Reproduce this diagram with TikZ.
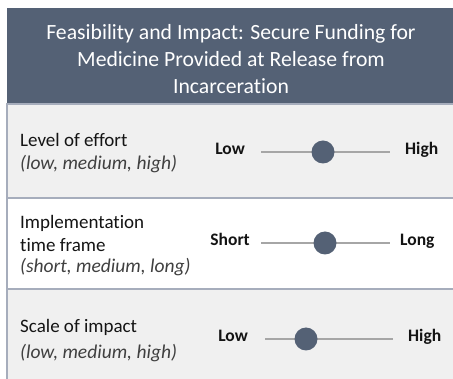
\documentclass[tikz,border=0pt]{standalone}
\usepackage{fontspec}
\setmainfont[Ligatures={NoCommon}]{Carlito}
\usepackage{tikz}
\usetikzlibrary{positioning}
\definecolor{slate}{RGB}{84, 97, 117}
\definecolor{mist}{RGB}{240, 240, 240}
\definecolor{rule}{RGB}{166, 173, 188}
\definecolor{track}{RGB}{166, 166, 166}
\definecolor{ink}{RGB}{20, 20, 20}
\definecolor{hintgray}{RGB}{64, 64, 64}
\tikzset{
    title/.style     = {text=white, align=center, font=\fontsize{21.7}{27}\selectfont, inner sep=0pt},
    item/.style      = {text=ink, anchor=west, align=left, font=\fontsize{19}{23}\selectfont, inner sep=0pt},
    hint/.style      = {text=hintgray, anchor=west, font=\fontsize{19.5}{23}\selectfont\itshape, inner sep=0pt},
    endlabel/.style  = {text=ink, font=\fontsize{17.5}{20}\selectfont\bfseries, inner sep=0pt, text height=1.5ex, text depth=.25ex},
    knob/.style      = {circle, fill=slate, minimum size=23pt, inner sep=0pt},
    trackline/.style = {draw=track, line width=1.2pt}
}
\begin{document}
\begin{tikzpicture}[x=1pt, y=-1pt]
            \useasboundingbox                                             (0, 0) rectangle (453, 379);
            \fill[white]                                                  (0, 0) rectangle (453, 379);
            \fill[slate]                                                  (7, 8) rectangle (453, 103);
            \fill[mist]                                                   (7, 104) rectangle (453, 198);
            \fill[mist]                                                   (7, 289) rectangle (453, 379);
            \draw[rule, line width=1.5pt]                                 (7, 104) -- (453, 104);
            \draw[rule, line width=1.5pt]                                 (7, 198) -- (453, 198);
            \draw[rule, line width=1.5pt]                                 (7, 289) -- (453, 289);
            \draw[rule, line width=2pt]                                   (7, 103) -- (7, 379);
            \node[title] (head) at (231, 59) {Feasibility and Impact: Secure Funding for\\Medicine Provided at Release from\\Incarceration};
            \node[item] (effort)     at (20, 140) {Level of effort};
            \node[hint] (effortnote) at (20, 164) {(low, medium, high)};
            \node[item] (time)       at (20, 233) {Implementation\\time frame};
            \node[hint] (timenote)   at (20, 267) {(short, medium, long)};
            \node[item] (impact)     at (20, 327) {Scale of impact};
            \node[hint] (impactnote) at (20, 353) {(low, medium, high)};
            \node[endlabel, anchor=east] (effortlo) at (245, 152) {Low};
            \node[endlabel, anchor=west] (efforthi) at (405, 152) {High};
            \node[endlabel, anchor=east] (timelo)   at (250, 243) {Short};
            \node[endlabel, anchor=west] (timehi)   at (400, 243) {Long};
            \node[endlabel, anchor=east] (impactlo) at (248, 339) {Low};
            \node[endlabel, anchor=west] (impacthi) at (408, 339) {High};
            \coordinate (effortstart) at (261, 152);
            \coordinate (effortend)   at (390, 152);
            \coordinate (timestart)   at (261, 243);
            \coordinate (timeend)     at (390, 243);
            \coordinate (impactstart) at (265, 339);
            \coordinate (impactend)   at (393, 339);
            \draw[trackline] (effortstart) -- (effortend);
            \draw[trackline] (timestart) -- (timeend);
            \draw[trackline] (impactstart) -- (impactend);
            \node[knob] (effortknob) at (323, 152) {};
            \node[knob] (timeknob)   at (325, 243) {};
            \node[knob] (impactknob) at (306, 339) {};
        \end{tikzpicture}
\end{document}
